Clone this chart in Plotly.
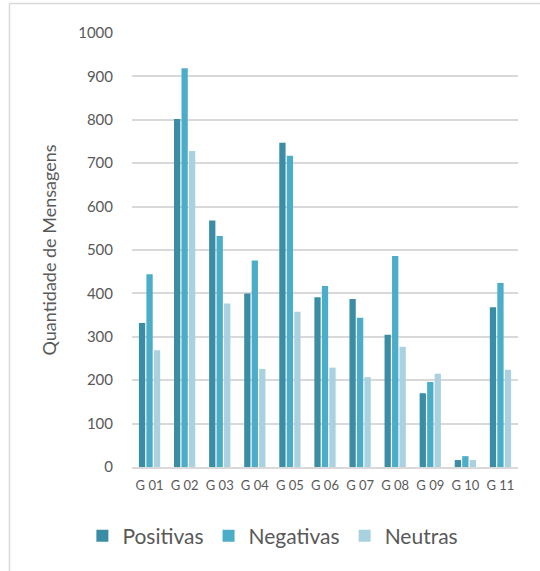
import plotly.graph_objects as go

categories = ["G 01", "G 02", "G 03", "G 04", "G 05", "G 06", "G 07", "G 08", "G 09", "G 10", "G 11"]
positivas = [332, 802, 568, 400, 747, 391, 387, 305, 170, 16, 368]
negativas = [444, 919, 532, 476, 717, 417, 344, 486, 196, 25, 424]
neutras = [269, 728, 377, 226, 358, 229, 207, 277, 215, 16, 224]
y_ticks = [0, 100, 200, 300, 400, 500, 600, 700, 800, 900, 1000]

series = [("Positivas", positivas, "#3A8DA5"), ("Negativas", negativas, "#4BADC8"), ("Neutras", neutras, "#A9D1DF")]

fig = go.Figure()
for name, vals, col in series:
    fig.add_trace(go.Bar(x=categories, y=vals, name=name, marker=dict(color=col, line=dict(width=0))))

W, H = 540, 571
L, R, T, B = 132, 22, 33, 104
pw, ph = W - L - R, H - T - B

def px_x(px):
    return (px - L) / pw

def px_y(py):
    return (H - B - py) / ph

fig.update_layout(
    width=W, height=H,
    margin=dict(l=L, r=R, t=T, b=B, autoexpand=False),
    paper_bgcolor="white", plot_bgcolor="white",
    barmode="group", bargap=0.36, bargroupgap=0.16,
    font=dict(family="Lato, Open Sans, sans-serif", color="#595959"),
    legend=dict(orientation="h", x=0.365, xanchor="center", y=px_y(536), yanchor="middle",
                font=dict(size=21, color="#595959"), itemwidth=30, traceorder="normal"),
    shapes=[
        dict(type="line", xref="paper", yref="paper", x0=px_x(9.5), x1=px_x(540), y0=px_y(3.5), y1=px_y(3.5),
             line=dict(color="#D9D9D9", width=1.5)),
        dict(type="line", xref="paper", yref="paper", x0=px_x(9.5), x1=px_x(9.5), y0=px_y(3.5), y1=px_y(571),
             line=dict(color="#D9D9D9", width=1.5)),
    ],
)
fig.update_yaxes(range=[0, 1000], tickvals=y_ticks, showgrid=True, gridcolor="#D9D9D9", gridwidth=1.5,
                 zeroline=False, showline=False, ticks="", ticklabelstandoff=18, automargin=False,
                 tickfont=dict(size=15, color="#595959"),
                 title=dict(text="Quantidade de Mensagens", font=dict(size=18, color="#595959"), standoff=16))
fig.update_xaxes(showline=True, linecolor="#D9D9D9", linewidth=1.5, ticks="", ticklabelstandoff=6,
                 automargin=False, tickfont=dict(size=13, color="#595959"))

fig.write_html("out.html", config={"displayModeBar": False},
               post_script="document.body.style.margin='0px';")
